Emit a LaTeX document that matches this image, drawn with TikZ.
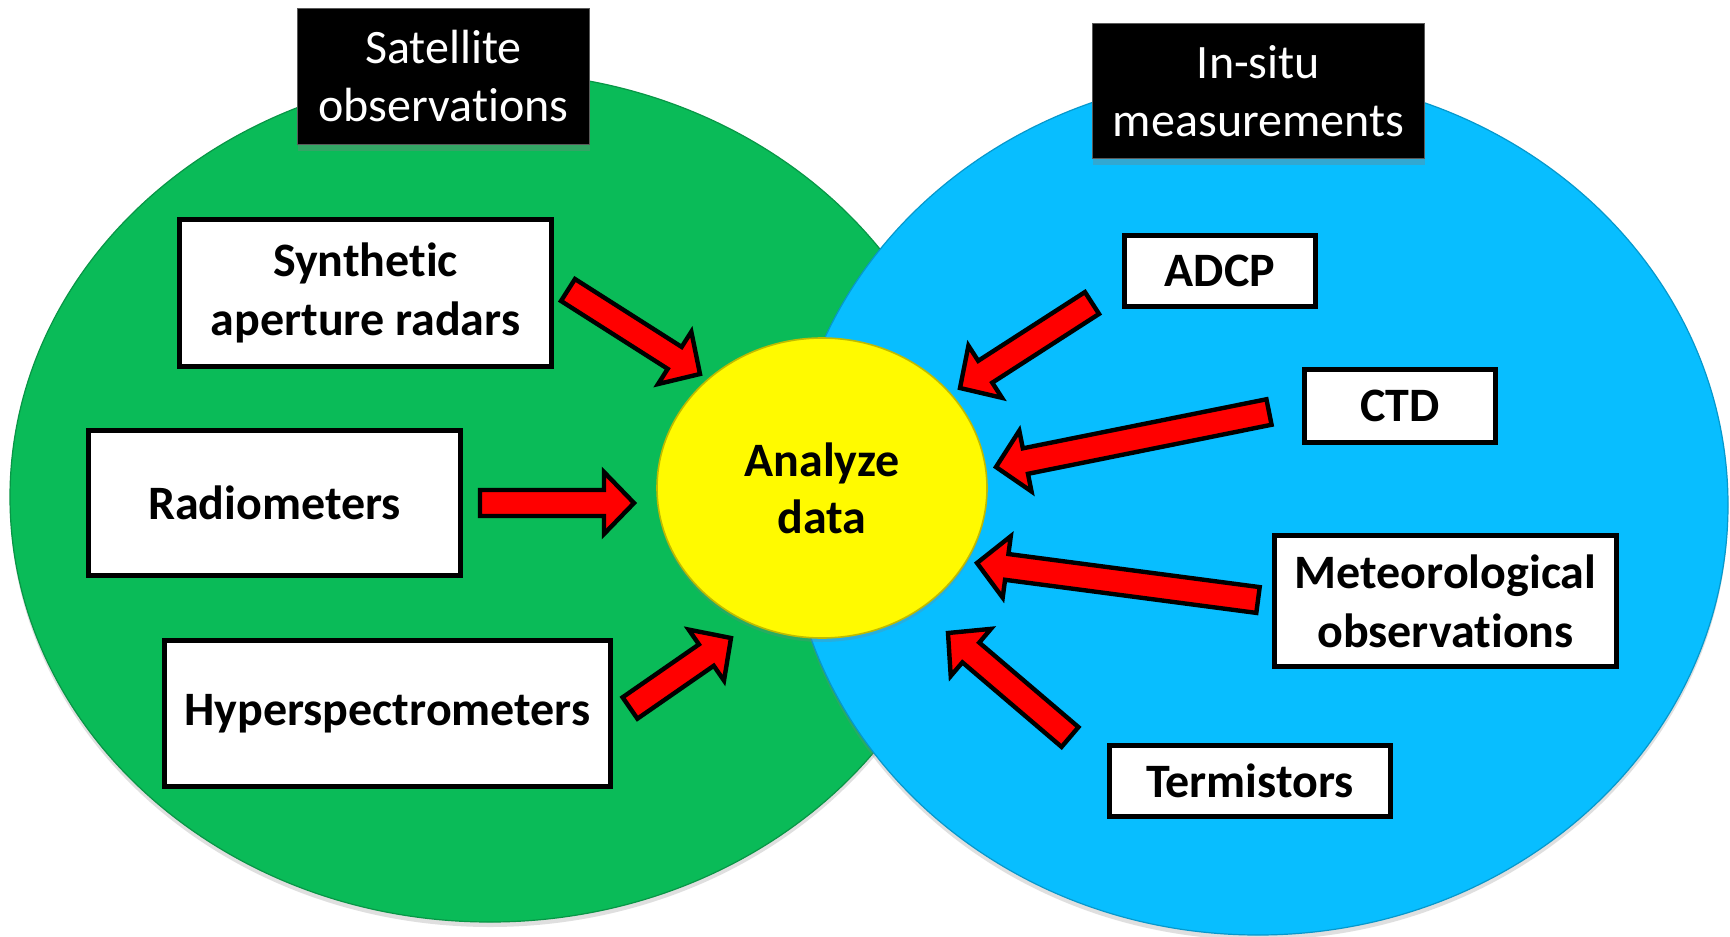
\documentclass[tikz,border=0pt]{standalone}
\usepackage{fontspec}
\setmainfont[Ligatures=NoCommon]{Carlito}
\usetikzlibrary{calc,shapes.geometric,shadows}
\definecolor{grn}{RGB}{10,187,88}
\definecolor{blu}{RGB}{8,190,255}
\definecolor{yel}{RGB}{255,250,0}
\definecolor{arrred}{RGB}{255,0,0}
\def\PX{0.5pt}
\newcommand{\blockarrow}[2]{%
  \path ($(#2)!15pt!(#1)$) coordinate (#2-b);
  \filldraw[blockarr] ($(#1)!6.5pt!90:(#2)$) -- ($(#2-b)!6.5pt!-90:(#1)$) -- ($(#2-b)!15.5pt!-90:(#1)$) -- (#2) -- ($(#2-b)!15.5pt!90:(#1)$) -- ($(#2-b)!6.5pt!90:(#1)$) -- ($(#1)!6.5pt!-90:(#2)$) -- cycle;}
\begin{document}
\begin{tikzpicture}[x=0.5pt,y=-0.5pt,
  bigell/.style={ellipse, inner sep=0pt},
  whitebox/.style={draw=black, fill=white, line width=2.3pt, align=center, inner sep=0pt, font=\fontsize{24}{29.5}\selectfont\bfseries},
  header/.style={fill=black, draw=black!65, line width=0.9pt, text=white, align=center, inner sep=0pt, font=\fontsize{24}{29}\selectfont, drop shadow={shadow xshift=0pt, shadow yshift=-3pt, opacity=0.35}},
  blockarr/.style={fill=arrred, draw=black, line width=2.2pt, line join=miter}
]
\useasboundingbox (0,0) rectangle (1730,937);
\fill[white] (0,0) rectangle (1730,937);
% big ellipses
\node[bigell, fill=grn, draw=grn!80!black, line width=0.6pt, minimum width=960*\PX, minimum height=850*\PX, drop shadow={shadow xshift=0pt, shadow yshift=-2.5pt, opacity=0.25}] (satell) at (490,497) {};
\node[bigell, fill=blu, draw=blu!80!black, line width=0.6pt, minimum width=940*\PX, minimum height=860*\PX, drop shadow={shadow xshift=0pt, shadow yshift=-2.5pt, opacity=0.25}] (insell) at (1258,505) {};
\node[bigell, fill=yel, draw=yel!75!black, line width=0.8pt, minimum width=330*\PX, minimum height=300*\PX, align=center, font=\fontsize{24}{28.5}\selectfont\bfseries, drop shadow={shadow xshift=0pt, shadow yshift=-2pt, opacity=0.25}] (ana) at (822,488) {Analyze\\data};
% white boxes
\node[whitebox, minimum width=372*\PX, minimum height=147*\PX] (sar) at (365.5,293) {Synthetic\\aperture radars};
\node[whitebox, minimum width=372*\PX, minimum height=145*\PX] (rad) at (274.5,503) {Radiometers};
\node[whitebox, minimum width=446*\PX, minimum height=146*\PX] (hyp) at (387.5,713.5) {Hyperspectrometers};
\node[whitebox, minimum width=191*\PX, minimum height=71*\PX] (adcp) at (1220,271) {ADCP};
\node[whitebox, minimum width=191*\PX, minimum height=73*\PX] (ctd) at (1400,406) {CTD};
\node[whitebox, minimum width=342*\PX, minimum height=131*\PX] (met) at (1445.5,601) {Meteorological\\observations};
\node[whitebox, minimum width=281*\PX, minimum height=71*\PX] (term) at (1250,781) {Termistors};
% headers
\node[header, minimum width=292*\PX, minimum height=136*\PX] (sathead) at (443.5,76.5) {Satellite\\observations};
\node[header, minimum width=332*\PX, minimum height=135*\PX] (inshead) at (1258.5,91) {In-situ\\measurements};
% arrow end points
\coordinate (a1s) at (568,290);  \coordinate (a1e) at (700,374);
\coordinate (a2s) at (480,503);  \coordinate (a2e) at (634,503);
\coordinate (a3s) at (630,708);  \coordinate (a3e) at (731,638);
\coordinate (a4s) at (1092,303); \coordinate (a4e) at (960,388);
\coordinate (a5s) at (1269,412); \coordinate (a5e) at (996,467);
\coordinate (a6s) at (1258,600); \coordinate (a6e) at (977,563);
\coordinate (a7s) at (1070,737); \coordinate (a7e) at (948,633);
\blockarrow{a1s}{a1e}
\blockarrow{a2s}{a2e}
\blockarrow{a3s}{a3e}
\blockarrow{a4s}{a4e}
\blockarrow{a5s}{a5e}
\blockarrow{a6s}{a6e}
\blockarrow{a7s}{a7e}
\end{tikzpicture}
\end{document}
